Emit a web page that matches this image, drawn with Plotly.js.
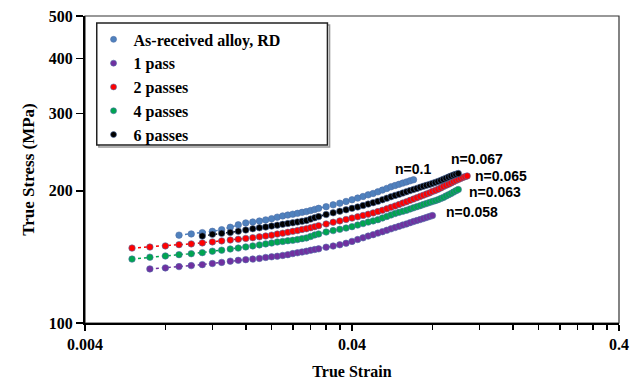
<!DOCTYPE html>
<html>
<head>
<meta charset="utf-8">
<script src="https://cdn.plot.ly/plotly-3.0.1.min.js"></script>
<style>html,body{margin:0;padding:0;background:#fff;}#chart{width:636px;height:390px;}</style>
</head>
<body>
<div id="chart"></div>
<script>
// True strain (shared x values)
const strain = [0.006,0.007,0.008,0.009,0.010,0.011,0.012,0.013,0.014,0.015,0.016,0.017,0.018,0.019,0.020,0.021,0.022,0.023,0.024,0.025,0.026,0.027,0.028,0.029,0.030,
  0.032,0.034,0.036,0.038,0.040,0.042,0.044,0.046,0.048,0.050,0.052,0.054,0.056,0.058,0.060,0.062,0.064,0.066,0.068,0.070,0.072,0.074,0.076,0.078,0.080,
  0.082,0.084,0.086,0.088,0.090,0.092,0.094,0.096,0.098,0.100,0.102,0.104,0.106,0.108];

// True stress (MPa) per series
const asReceived = [null,null,null,158.5,159.5,160.6,161.7,163.1,165.2,167.3,169.0,169.8,170.7,171.7,172.8,174.2,175.3,176.1,176.9,177.7,178.6,179.3,180.3,181.4,182.4,
  184.0,185.8,187.4,189.1,190.8,192.5,194.1,195.8,197.2,198.9,200.7,202.5,204.2,205.6,206.9,208.2,209.5,210.7,211.9,
  null,null,null,null,null,null,null,null,null,null,null,null,null,null,null,null,null,null,null,null];
const pass1 = [null,132.8,133.5,134.4,135.1,135.8,136.6,137.4,138.3,138.9,139.4,139.8,140.3,141.0,141.5,141.9,142.5,143.1,143.9,144.5,145.1,145.7,146.4,147.0,147.5,
  148.8,149.7,150.7,151.9,153.4,154.9,156.3,157.7,158.9,160.2,161.4,162.6,163.8,164.9,166.0,167.1,168.1,169.2,170.2,171.1,172.0,172.9,173.9,174.8,175.6,
  null,null,null,null,null,null,null,null,null,null,null,null,null,null];
const pass2 = [148.1,148.9,149.8,150.8,151.4,152.2,153.0,153.8,154.5,155.1,155.8,156.4,157.1,157.8,158.5,159.4,160.1,160.9,161.7,162.4,163.3,163.9,164.8,165.7,166.6,
  168.1,169.6,170.8,172.1,173.3,174.5,175.7,176.9,178.1,179.3,180.6,182.0,183.4,184.7,186.1,187.5,188.8,190.2,191.5,192.8,194.2,195.4,196.6,197.8,199.2,
  200.3,201.5,203.0,204.5,205.8,207.1,208.4,209.8,211.0,212.2,213.4,214.5,215.4,216.2];
const pass4 = [139.8,141.2,142.1,143.1,143.8,144.6,145.7,146.5,147.4,148.1,149.0,149.8,150.6,151.4,152.1,152.9,153.4,153.9,154.3,154.9,155.6,156.2,157.4,158.7,159.5,
  161.1,162.3,163.4,164.5,165.7,167.1,168.4,169.7,170.8,171.9,173.4,174.8,176.2,177.5,178.6,179.6,180.6,181.8,182.9,184.0,185.0,186.1,187.1,188.1,189.0,
  189.9,190.9,192.0,193.2,194.6,195.9,197.2,198.6,200.0,201.3,null,null,null,null];
const pass6 = [null,null,null,null,null,157.8,159.2,160.0,160.8,161.8,162.8,163.9,164.7,165.4,166.2,167.0,167.8,168.5,169.1,169.8,170.5,171.1,172.4,173.7,174.7,
  176.6,178.2,179.7,181.0,182.4,183.7,185.1,186.5,187.9,189.2,190.8,192.3,193.8,195.2,196.4,197.7,199.0,200.2,201.4,202.5,203.7,204.8,205.8,206.8,207.9,
  208.9,210.0,211.2,212.4,213.7,214.9,216.0,217.2,218.1,219.0,null,null,null,null];

const seriesNames = ['As-received alloy, RD','1 pass','2 passes','4 passes','6 passes'];
const seriesValues = [asReceived, pass1, pass2, pass4, pass6];
const seriesColors = ['#4F81BD','#7030A0','#FF0000','#00A550','#000000'];

// Strain-hardening exponent labels
const nLabels = ['n=0.1','n=0.058','n=0.065','n=0.063','n=0.067'];

const xTickVals = [0.004, 0.04, 0.4];
const xTickText = ['0.004','0.04','0.4'];
const xMinorVals = [0.008,0.012,0.016,0.020,0.024,0.028,0.032,0.036,0.08,0.12,0.16,0.20,0.24,0.28,0.32,0.36];
const yTickVals = [100,200,300,400,500];
const yTickText = ['100','200','300','400','500'];

const serif = 'Liberation Serif, Times New Roman, serif';
const sans = 'Liberation Sans, Arial, sans-serif';

const traces = [];
seriesValues.forEach((vals, i) => {
  traces.push({
    x: strain, y: vals, type: 'scatter', mode: 'lines+markers',
    line: {color: seriesColors[i], width: 1.5, dash: 'dot'},
    marker: {color: seriesColors[i], size: 6.5, line: {color: '#4F6FA8', width: 0.6}},
    showlegend: false, hoverinfo: 'skip'
  });
});
seriesValues.forEach((vals, i) => {
  traces.push({
    x: [null], y: [null], type: 'scatter', mode: 'markers', name: seriesNames[i],
    marker: {color: seriesColors[i], size: 6, line: {color: '#4F6FA8', width: 0.6}},
    showlegend: true
  });
});

// label positions in paper coordinates
const nPos = [[0.614,0.502],[0.725,0.362],[0.779,0.479],[0.768,0.427],[0.734,0.534]];
const annotations = nLabels.map((t, i) => ({
  text: t, xref: 'paper', yref: 'paper', x: nPos[i][0], y: nPos[i][1],
  xanchor: 'center', yanchor: 'middle', showarrow: false, borderpad: 0,
  font: {family: sans, size: 14, color: '#000', weight: 'bold'}
}));

const layout = {
  width: 636, height: 390,
  margin: {l: 85, r: 17, t: 16, b: 67},
  paper_bgcolor: '#fff', plot_bgcolor: '#fff',
  showlegend: true,
  legend: {
    x: 0.016, y: 0.979, xanchor: 'left', yanchor: 'top',
    bgcolor: 'rgba(0,0,0,0)', borderwidth: 0,
    font: {family: serif, size: 16, color: '#000', weight: 'bold'}
  },
  xaxis: {
    type: 'log', range: [Math.log10(0.004), Math.log10(0.4)],
    tickmode: 'array', tickvals: xTickVals, ticktext: xTickText,
    ticks: 'outside', ticklen: 6, tickwidth: 1.5, tickcolor: '#000',
    minor: {tickmode: 'array', tickvals: xMinorVals, ticks: 'outside', ticklen: 5, tickwidth: 1.5, tickcolor: '#000', showgrid: false},
    showgrid: false, zeroline: false,
    showline: true, linecolor: '#000', linewidth: 2,
    tickfont: {family: serif, size: 16, color: '#000', weight: 'bold'},
    title: {text: 'True Strain', font: {family: serif, size: 16, color: '#000', weight: 'bold'}, standoff: 14}
  },
  yaxis: {
    type: 'log', range: [2, Math.log10(500)],
    tickmode: 'array', tickvals: yTickVals, ticktext: yTickText,
    ticks: 'outside', ticklen: 7, tickwidth: 1.5, tickcolor: '#000',
    showgrid: false, zeroline: false,
    showline: true, linecolor: '#000', linewidth: 2,
    tickfont: {family: serif, size: 16, color: '#000', weight: 'bold'},
    title: {text: 'True Stress (MPa)', font: {family: serif, size: 17, color: '#000', weight: 'bold'}, standoff: 10}
  },
  shapes: [
    {type: 'rect', xref: 'paper', yref: 'paper', x0: 0, x1: 1, y0: 0, y1: 1, layer: 'below', line: {color: '#333', width: 1.2}},
    {type: 'rect', xref: 'paper', yref: 'paper', x0: 0.026, x1: 0.458, y0: 0.573, y1: 0.971, layer: 'below', line: {color: '#999', width: 1.5}, fillcolor: '#fff'},
    {type: 'rect', xref: 'paper', yref: 'paper', x0: 0.022, x1: 0.454, y0: 0.580, y1: 0.977, layer: 'below', line: {color: '#222', width: 1.5}, fillcolor: '#fff'}
  ],
  annotations: annotations
};

Plotly.newPlot('chart', traces, layout, {staticPlot: true, displayModeBar: false});
</script>
</body>
</html>
